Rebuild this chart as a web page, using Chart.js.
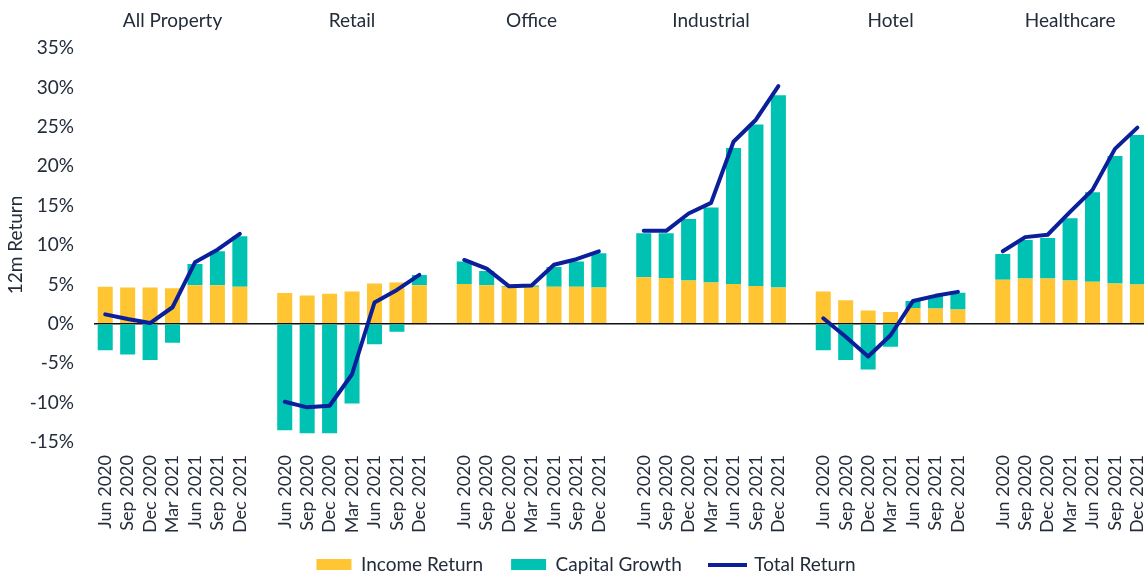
<!DOCTYPE html>
<html>
<head>
<meta charset="utf-8">
<script src="https://cdn.jsdelivr.net/npm/chart.js@4/dist/chart.umd.min.js"></script>
<style>
  html, body { margin: 0; padding: 0; background: #fff; overflow: hidden; }
  #wrap { width: 1172px; height: 584px; }
</style>
</head>
<body>
<div id="wrap"><canvas id="chart"></canvas></div>
<script>
const quarters = ["Jun 2020", "Sep 2020", "Dec 2020", "Mar 2021", "Jun 2021", "Sep 2021", "Dec 2021"]
const sectors = ["All Property", "Retail", "Office", "Industrial", "Hotel", "Healthcare"]

// income return by sector, %
const incomeAllProperty = [4.7, 4.6, 4.6, 4.5, 4.9, 4.9, 4.7]
const incomeRetail = [3.9, 3.6, 3.8, 4.1, 5.1, 5.25, 4.9]
const incomeOffice = [5.05, 4.9, 4.7, 4.7, 4.7, 4.7, 4.6]
const incomeIndustrial = [5.9, 5.8, 5.5, 5.25, 5.05, 4.8, 4.6]
const incomeHotel = [4.1, 3.0, 1.7, 1.5, 2.0, 1.95, 1.8]
const incomeHealthcare = [5.6, 5.75, 5.75, 5.5, 5.35, 5.1, 5.0]

// capital growth by sector, %
const capitalAllProperty = [-3.35, -3.9, -4.6, -2.4, 2.7, 4.3, 6.4]
const capitalRetail = [-13.5, -13.9, -13.9, -10.1, -2.6, -1.0, 1.3]
const capitalOffice = [2.85, 1.8, 0.1, 0.15, 2.5, 3.2, 4.35]
const capitalIndustrial = [5.6, 5.7, 7.8, 9.5, 17.25, 20.5, 24.4]
const capitalHotel = [-3.35, -4.6, -5.8, -2.9, 0.9, 1.6, 2.15]
const capitalHealthcare = [3.25, 4.9, 5.15, 7.9, 11.35, 16.2, 18.95]

// total return by sector, %
const totalAllProperty = [1.2, 0.6, 0.1, 2.1, 7.8, 9.4, 11.4]
const totalRetail = [-9.9, -10.6, -10.4, -6.4, 2.7, 4.3, 6.2]
const totalOffice = [8.1, 7.0, 4.75, 4.85, 7.5, 8.2, 9.2]
const totalIndustrial = [11.8, 11.8, 14.0, 15.35, 23.1, 25.9, 30.15]
const totalHotel = [0.7, -1.65, -4.15, -1.45, 2.9, 3.55, 4.05]
const totalHealthcare = [9.2, 11.0, 11.3, 14.2, 17.0, 22.2, 24.9]

const yTicks = [-15, -10, -5, 0, 5, 10, 15, 20, 25, 30, 35]

const incomeGroups = [incomeAllProperty, incomeRetail, incomeOffice, incomeIndustrial, incomeHotel, incomeHealthcare]
const capitalGroups = [capitalAllProperty, capitalRetail, capitalOffice, capitalIndustrial, capitalHotel, capitalHealthcare]
const totalGroups = [totalAllProperty, totalRetail, totalOffice, totalIndustrial, totalHotel, totalHealthcare]

// flatten groups, with one empty slot between sectors
function flat(groups, filler) {
  const out = []
  groups.forEach((g, i) => {
    if (i > 0) out.push(filler)
    g.forEach((v) => out.push(v))
  })
  return out
}

const labels = flat(sectors.map(() => quarters), "")
const textColor = "#232c3a"
const lineColor = "#0B1F9B"
const font = { family: "Lato", size: 19 }

// legend swatch for the total return line
const lineSwatch = document.createElement("canvas")
lineSwatch.width = 39
lineSwatch.height = 4
const sw = lineSwatch.getContext("2d")
sw.fillStyle = lineColor
sw.fillRect(0, 0, 39, 4)

const groupTitles = {
  id: "groupTitles",
  afterLayout(chart) {
    // let the rotated quarter labels run past the squeezed axis box
    chart.scales.x.bottom = chart.height
  },
  afterDraw(chart) {
    const ctx = chart.ctx
    const x = chart.scales.x
    ctx.save()
    ctx.font = "19px Lato"
    ctx.fillStyle = textColor
    ctx.textAlign = "center"
    ctx.textBaseline = "middle"
    sectors.forEach((s, i) => {
      ctx.fillText(s, x.getPixelForValue(i * 8 + 3), 21)
    })
    ctx.restore()
  },
}

Chart.defaults.font.family = "Lato"
Chart.defaults.color = textColor

new Chart(document.getElementById("chart"), {
  type: "bar",
  data: {
    labels: labels,
    datasets: [
      {
        label: "Income Return",
        data: flat(incomeGroups, null),
        backgroundColor: "#FFC533",
        stack: "bars",
        categoryPercentage: 1,
        barPercentage: 0.67,
        pointStyle: "rect",
        order: 1,
      },
      {
        label: "Capital Growth",
        data: flat(capitalGroups, null),
        backgroundColor: "#00C2B2",
        stack: "bars",
        categoryPercentage: 1,
        barPercentage: 0.67,
        pointStyle: "rect",
        order: 1,
      },
      {
        type: "line",
        label: "Total Return",
        data: flat(totalGroups, null),
        borderColor: lineColor,
        backgroundColor: lineColor,
        borderWidth: 4,
        borderJoinStyle: "round",
        borderCapStyle: "round",
        tension: 0,
        pointRadius: 0,
        pointStyle: lineSwatch,
        spanGaps: false,
        stack: "line",
        order: 0,
      },
    ],
  },
  options: {
    responsive: true,
    maintainAspectRatio: false,
    animation: false,
    layout: { padding: { top: 48, right: 0, left: 0, bottom: 0 } },
    plugins: {
      legend: {
        position: "bottom",
        labels: {
          usePointStyle: true,
          pointStyleWidth: 35,
          boxHeight: 11,
          padding: 28,
          font: font,
          color: textColor,
          sort: (a, b) => a.datasetIndex - b.datasetIndex,
        },
      },
      tooltip: { enabled: false },
    },
    scales: {
      x: {
        stacked: true,
        grid: { display: false, drawTicks: false },
        border: { display: false },
        afterFit: (scale) => {
          scale.height = 85
        },
        ticks: {
          autoSkip: false,
          maxRotation: 90,
          minRotation: 90,
          padding: 13,
          font: { family: "Lato", size: 18 },
          color: textColor,
        },
      },
      y: {
        stacked: true,
        min: -15,
        max: 35,
        afterBuildTicks: (scale) => {
          scale.ticks = yTicks.map((v) => ({ value: v }))
        },
        afterFit: (scale) => {
          scale.width = 94
        },
        grid: {
          drawTicks: false,
          color: (c) => (c.tick && c.tick.value === 0 ? "#111" : "rgba(0,0,0,0)"),
          lineWidth: 1.5,
        },
        border: { display: false },
        ticks: {
          padding: 20,
          font: font,
          color: textColor,
          callback: (v) => v + "%",
        },
        title: {
          display: true,
          text: "12m Return",
          font: font,
          color: textColor,
          padding: { top: 4, bottom: 0 },
        },
      },
    },
  },
  plugins: [groupTitles],
})
</script>
</body>
</html>
